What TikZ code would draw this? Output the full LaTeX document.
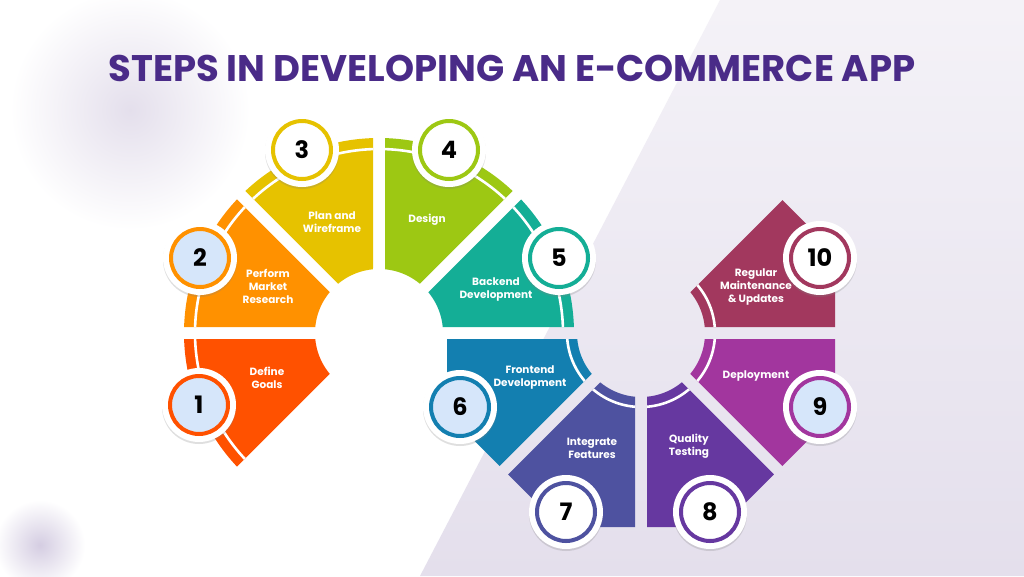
\documentclass[tikz,border=0pt]{standalone}
\usepackage{fontspec}
\setmainfont{Poppins}
\usetikzlibrary{shadows,calc}
\definecolor{c1}{HTML}{FF5100}
\definecolor{c2}{HTML}{FF9100}
\definecolor{c3}{HTML}{E6C200}
\definecolor{c4}{HTML}{9DC813}
\definecolor{c5}{HTML}{14AE96}
\definecolor{c6}{HTML}{137FB0}
\definecolor{c7}{HTML}{4E52A0}
\definecolor{c8}{HTML}{6638A0}
\definecolor{c9}{HTML}{A2369E}
\definecolor{c10}{HTML}{A2385E}
\definecolor{titlec}{HTML}{4A2B88}
\definecolor{lav}{HTML}{E4DFEC}
\definecolor{badgein}{HTML}{D6E6FA}
\newcommand{\octout}{(22.5:210) -- (67.5:210) -- (112.5:210) -- (157.5:210) -- (202.5:210) -- (247.5:210) -- (292.5:210) -- (337.5:210) -- cycle}
\newcommand{\circout}{(0,0) circle (195)}
\newcommand{\seg}[6]{% center, start angle, colour, arc radius, name, outer
  \begin{scope}[shift={#1},rotate=#2]
    \begin{scope}
      \clip (22.5:15.7) -- ($(0:300)+(90:6)$) -- ($(45:300)+(-45:6)$) -- cycle;
      \fill[#3,even odd rule] #6 (0,0) circle (64);
      \draw[white,line width=2.6pt] (0:#4) arc (0:45:#4);
    \end{scope}
    \coordinate (#5) at (0,0);
  \end{scope}}
\tikzset{
  x=1pt,y=1pt,
  lbl/.style={text=white,font=\fontsize{10.5}{13}\selectfont\bfseries,align=center},
  badge/.style={circle,fill=white,minimum size=74pt,drop shadow={opacity=0.25,shadow xshift=0pt,shadow yshift=-2pt}},
  ring/.style={circle,draw=#1,line width=4pt,minimum size=58pt,inner sep=0pt,font=\fontsize{24}{24}\selectfont\bfseries},
}
\begin{document}
\begin{tikzpicture}
\useasboundingbox (0,0) rectangle (1024,-576);
\fill[white] (0,0) rectangle (1024,-576);
\shade[top color=white!60!lav,bottom color=lav] (720,0) -- (1024,0) -- (1024,-576) -- (420,-576) -- cycle;
\shade[inner color=lav,outer color=white] (130,-110) circle (120);
\shade[inner color=lav!90!titlec,outer color=white] (40,-545) circle (45);
\node[text=titlec,font=\fontsize{37}{37}\selectfont\bfseries] (title) at (512,-68) {STEPS IN DEVELOPING AN E-COMMERCE APP};
% ring 1
\seg{(379,-333)}{180}{c1}{184}{s1}{\circout}
\seg{(379,-333)}{135}{c2}{184}{s2}{\circout}
\seg{(379,-333)}{90}{c3}{184}{s3}{\circout}
\seg{(379,-333)}{45}{c4}{184}{s4}{\circout}
\seg{(379,-333)}{0}{c5}{184}{s5}{\circout}
% ring 2
\seg{(641,-333)}{180}{c6}{74}{s6}{\octout}
\seg{(641,-333)}{225}{c7}{74}{s7}{\octout}
\seg{(641,-333)}{270}{c8}{74}{s8}{\octout}
\seg{(641,-333)}{315}{c9}{74}{s9}{\octout}
\seg{(641,-333)}{0}{c10}{74}{s10}{\octout}
% labels
\node[lbl] (l1) at (267,-378) {Define\\Goals};
\node[lbl] (l2) at (268,-286) {Perform\\Market\\Research};
\node[lbl] (l3) at (332,-222) {Plan and\\Wireframe};
\node[lbl] (l4) at (427,-220) {Design};
\node[lbl] (l5) at (496,-290) {Backend\\Development};
\node[lbl] (l6) at (530,-378) {Frontend\\Development};
\node[lbl] (l7) at (592,-448) {Integrate\\Features};
\node[lbl] (l8) at (689,-446) {Quality\\Testing};
\node[lbl] (l9) at (756,-376) {Deployment};
\node[lbl] (l10) at (756,-287) {Regular\\Maintenance\\\& Updates};
% badges
\foreach \n/\x/\y/\f in {1/199/405/badgein,2/200/258/badgein,3/302/150/white,4/449/150/white,5/559/258/white,6/460/407/badgein,7/566/512/white,8/710/512/white,9/820/407/badgein,10/820/258/white}{
  \node[badge] (b\n) at (\x,-\y) {};
  \node[ring=c\n,fill=\f] (n\n) at (\x,-\y) {\n};
}
\end{tikzpicture}
\end{document}
